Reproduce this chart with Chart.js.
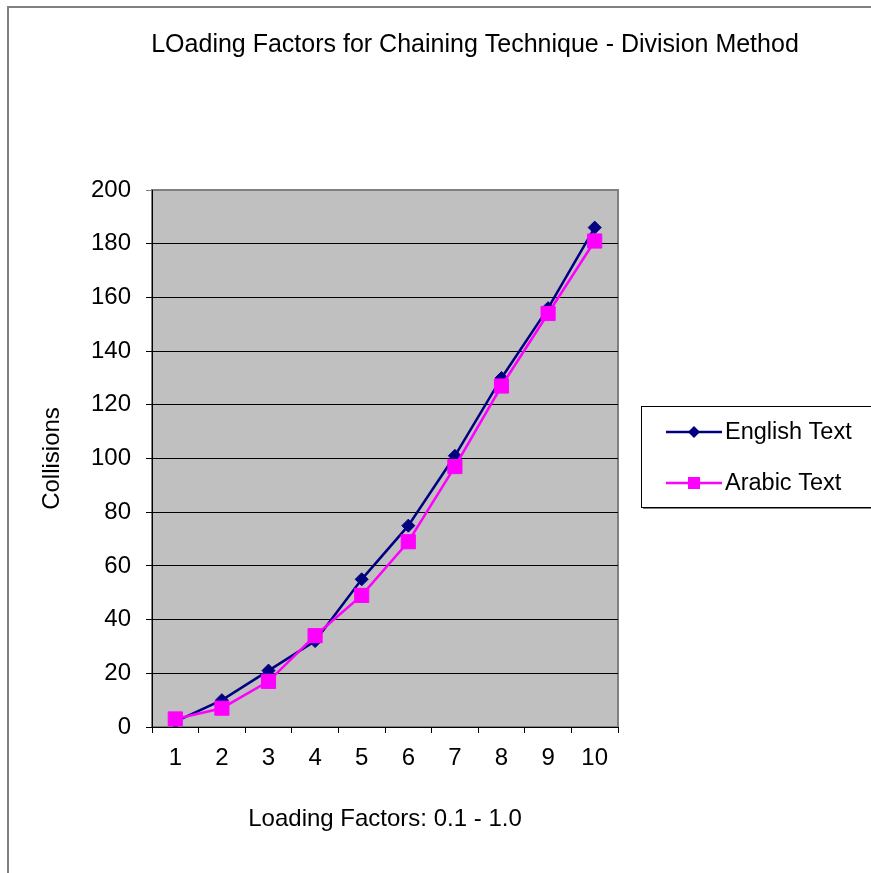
<!DOCTYPE html>
<html lang="en">
<head>
  <meta charset="UTF-8" />
  <title>Loading Factors for Chaining Technique</title>
  <script src="https://cdn.jsdelivr.net/npm/chart.js"></script>
  <style>
    * { margin: 0; padding: 0; box-sizing: border-box; }
    html, body { width: 100%; height: 100%; background: #fff; overflow: hidden; }
    #wrap { position: absolute; left: 0; top: 0; width: 871px; height: 873px; }
  </style>
</head>
<body>
  <div id="wrap"><canvas id="chart"></canvas></div>

  <script>
    // Collisions per loading factor (0.1 .. 1.0 shown as 1 .. 10)
    const loadFactors = ['1', '2', '3', '4', '5', '6', '7', '8', '9', '10'];
    const englishText = [2, 10, 21, 32, 55, 75, 101, 130, 156, 186];
    const arabicText  = [3, 7, 17, 34, 49, 69, 97, 127, 154, 181];
    const yTicks = [0, 20, 40, 60, 80, 100, 120, 140, 160, 180, 200];

    const FONT = "'Liberation Sans', Arial, sans-serif";

    // Outer frame, grey plot background, title and boxed legend
    const excelLook = {
      id: 'excelLook',
      beforeDraw(chart) {
        const { ctx, chartArea: a } = chart;
        ctx.save();
        ctx.fillStyle = '#fff';
        ctx.fillRect(0, 0, chart.width, chart.height);
        ctx.strokeStyle = '#808080';
        ctx.lineWidth = 2;
        ctx.strokeRect(8, 7, chart.width + 20, chart.height + 20);
        ctx.fillStyle = '#c0c0c0';
        ctx.fillRect(a.left, a.top, a.right - a.left, a.bottom - a.top);
        ctx.strokeStyle = '#808080';
        ctx.lineWidth = 2;
        ctx.strokeRect(a.left, a.top, a.right - a.left, a.bottom - a.top);
        ctx.restore();
      },
      afterDraw(chart) {
        const { ctx } = chart;
        ctx.save();
        ctx.fillStyle = '#000';
        ctx.font = '25px ' + FONT;
        ctx.textAlign = 'center';
        ctx.textBaseline = 'middle';
        ctx.fillText('LOading Factors for Chaining Technique - Division Method', 475, 45);

        // legend box with a soft shadow along the bottom
        const bx = 641, by = 406, bw = 240, bh = 101;
        ctx.fillStyle = '#808080';
        ctx.fillRect(bx + 2, by + 2, bw, bh);
        ctx.fillStyle = '#fff';
        ctx.fillRect(bx, by, bw, bh);
        ctx.strokeStyle = '#000';
        ctx.lineWidth = 1;
        ctx.strokeRect(bx + 0.5, by + 0.5, bw, bh);

        const rows = [432, 483];
        ctx.textAlign = 'left';
        ctx.font = '23.5px ' + FONT;
        chart.data.datasets.slice().reverse().forEach((ds, i) => {
          const y = rows[i];
          ctx.strokeStyle = ds.borderColor;
          ctx.lineWidth = 2.5;
          ctx.beginPath();
          ctx.moveTo(666, y);
          ctx.lineTo(722, y);
          ctx.stroke();
          ctx.fillStyle = ds.backgroundColor;
          ctx.beginPath();
          if (ds.pointStyle === 'rectRot') {
            ctx.moveTo(694, y - 6); ctx.lineTo(700, y); ctx.lineTo(694, y + 6); ctx.lineTo(688, y);
          } else {
            ctx.rect(688, y - 6, 12, 12);
          }
          ctx.closePath();
          ctx.fill();
          ctx.fillStyle = '#000';
          ctx.fillText(ds.label, 725, y + 1);
        });
        ctx.restore();
      }
    };

    new Chart(document.getElementById('chart'), {
      type: 'line',
      data: {
        labels: loadFactors,
        datasets: [
          {
            label: 'Arabic Text',
            data: arabicText,
            borderColor: '#ff00ff',
            backgroundColor: '#ff00ff',
            borderWidth: 2.5,
            pointStyle: 'rect',
            pointRadius: 10,
            pointBorderWidth: 1,
            tension: 0,
            order: 0
          },
          {
            label: 'English Text',
            data: englishText,
            borderColor: '#000080',
            backgroundColor: '#000080',
            borderWidth: 2.5,
            pointStyle: 'rectRot',
            pointRadius: 6.5,
            pointBorderWidth: 1,
            tension: 0,
            order: 1
          }
        ]
      },
      options: {
        responsive: true,
        maintainAspectRatio: false,
        animation: false,
        layout: { padding: { left: 38, top: 190, right: 253, bottom: 39 } },
        plugins: {
          legend: { display: false },
          title: { display: false },
          tooltip: { enabled: false }
        },
        scales: {
          x: {
            offset: true,
            afterFit: s => { s.height = 107; },
            grid: { offset: true, drawOnChartArea: false, color: '#000', tickLength: 6 },
            border: { color: '#000', width: 1 },
            ticks: { color: '#000', padding: 11, maxRotation: 0, font: { family: FONT, size: 24 } },
            title: {
              display: true,
              text: 'Loading Factors: 0.1 - 1.0',
              color: '#000',
              padding: 0,
              font: { family: FONT, size: 24 }
            }
          },
          y: {
            min: 0,
            max: 200,
            afterFit: s => { s.width = 114; },
            afterBuildTicks: s => { s.ticks = yTicks.map(v => ({ value: v })); },
            grid: {
              color: c => (c.tick && c.tick.value === 200 ? '#808080' : '#000'),
              lineWidth: 1,
              tickLength: 6
            },
            border: { color: '#000', width: 1 },
            ticks: { color: '#000', padding: 15, font: { family: FONT, size: 24 } },
            title: {
              display: true,
              text: 'Collisions',
              color: '#000',
              padding: 0,
              font: { family: FONT, size: 24 }
            }
          }
        }
      },
      plugins: [excelLook]
    });
  </script>
</body>
</html>
